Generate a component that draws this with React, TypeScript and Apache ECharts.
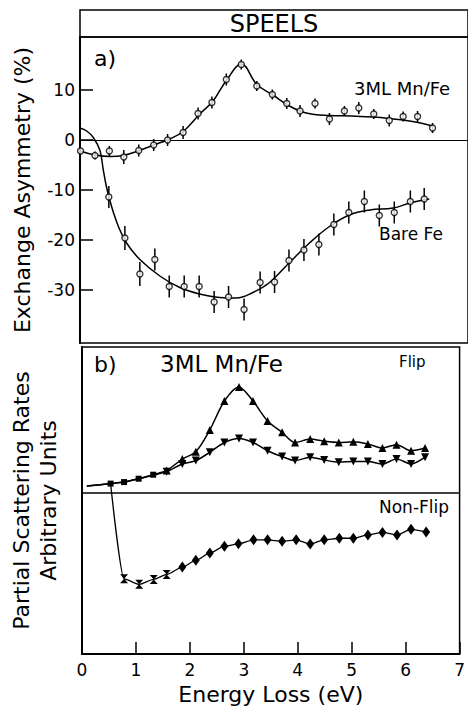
import React, { useEffect, useRef } from "react";
import * as echarts from "echarts";

// ---------- Panel a) Exchange asymmetry (%) ----------
const MN_E = [0.01, 0.27, 0.53, 0.79, 1.06, 1.33, 1.58, 1.86, 2.13, 2.38, 2.64, 2.91, 3.19, 3.47, 3.73, 3.97, 4.24, 4.5, 4.77, 5.03, 5.3, 5.58, 5.83, 6.09, 6.36];
const MN_A = [-2.2, -3.1, -2.2, -3.4, -2.1, -1.0, 0.0, 1.5, 5.3, 7.5, 12.1, 15.1, 10.8, 9.1, 7.3, 5.8, 7.3, 4.2, 5.8, 6.4, 5.2, 3.9, 4.7, 4.7, 2.4];
const MN_ERR = [0.6, 0.8, 1.0, 1.4, 1.2, 1.2, 1.2, 1.3, 1.2, 1.2, 1.2, 1.0, 1.0, 1.0, 1.1, 1.2, 1.0, 1.2, 1.0, 1.2, 1.0, 1.2, 1.0, 1.1, 1.0];

const FE_E = [0.52, 0.81, 1.08, 1.35, 1.61, 1.88, 2.15, 2.42, 2.68, 2.96, 3.25, 3.51, 3.77, 4.04, 4.31, 4.58, 4.85, 5.13, 5.4, 5.67, 5.96, 6.21];
const FE_A = [-11.4, -19.6, -26.8, -23.9, -29.3, -29.3, -29.3, -32.4, -31.4, -33.9, -28.5, -28.4, -24.1, -22.0, -20.9, -16.9, -14.5, -12.3, -15.1, -14.5, -12.3, -11.8];
const FE_ERR = [2.2, 2.4, 2.4, 2.2, 2.2, 2.2, 2.2, 2.2, 2.2, 2.2, 2.2, 2.2, 2.2, 2.2, 2.2, 2.2, 2.2, 2.2, 2.2, 2.2, 2.2, 2.2];

const MN_FIT_E = [0, 0.27, 0.55, 0.78, 1.07, 1.33, 1.62, 1.86, 2.16, 2.4, 2.64, 2.91, 3.19, 3.48, 3.78, 4.08, 4.5, 4.9, 5.3, 5.65, 6.0, 6.36];
const MN_FIT_A = [-2.2, -3.0, -3.3, -3.1, -2.1, -1.0, 0.2, 1.7, 5.2, 7.8, 11.9, 15.2, 11.1, 9.0, 6.8, 5.4, 4.9, 4.8, 4.6, 4.2, 3.7, 2.8];

const FE_FIT_E = [0.0, 0.12, 0.24, 0.36, 0.42, 0.47, 0.52, 0.6, 0.7, 0.84, 1.08, 1.44, 1.8, 2.16, 2.52, 2.82, 3.12, 3.42, 3.78, 4.14, 4.5, 4.86, 5.23, 5.65, 5.95, 6.3];
const FE_FIT_A = [2.4, 1.8, 0.5, -2.1, -6.0, -9.0, -11.3, -14.4, -17.5, -20.6, -23.9, -27.2, -29.5, -30.8, -31.5, -31.6, -30.5, -28.5, -24.5, -20.6, -17.3, -15.0, -14.0, -13.6, -12.6, -11.8];

const A_TICKS = [-30, -20, -10, 0, 10];
const X_TICKS = [0, 1, 2, 3, 4, 5, 6, 7];

// ---------- Panel b) Partial scattering rates (arbitrary units) ----------
const FLIP_E = [0.09, 0.53, 0.78, 1.05, 1.32, 1.57, 1.86, 2.11, 2.37, 2.64, 2.91, 3.17, 3.44, 3.71, 3.95, 4.23, 4.49, 4.76, 5.03, 5.3, 5.57, 5.83, 6.1, 6.36];
const FLIP_UP = [54.7, 55.5, 56.0, 57.1, 58.4, 59.8, 63.5, 65.9, 73.0, 82.4, 87.0, 82.4, 75.9, 72.2, 68.9, 70.0, 69.3, 68.9, 69.1, 68.4, 67.1, 68.2, 66.2, 67.1];
const FLIP_DOWN = [54.7, 55.5, 56.0, 57.1, 58.2, 59.4, 61.9, 63.0, 65.7, 68.9, 70.2, 68.9, 66.2, 64.3, 63.0, 64.1, 63.2, 62.5, 62.7, 62.7, 61.9, 63.5, 61.9, 64.1];
const NONFLIP_E = [0.53, 0.78, 1.06, 1.33, 1.57, 1.86, 2.11, 2.37, 2.64, 2.9, 3.18, 3.44, 3.71, 3.97, 4.23, 4.49, 4.77, 5.03, 5.3, 5.57, 5.84, 6.1, 6.38];
const NONFLIP = [55.5, 24.5, 22.7, 24.3, 25.9, 28.3, 30.5, 32.9, 35.1, 35.9, 37.2, 37.2, 36.7, 37.2, 35.8, 37.2, 37.7, 37.7, 38.8, 39.6, 38.8, 40.6, 39.7];
const SEPARATOR = 52.6;

const FONT = "DejaVu Sans";
const HOURGLASS = "path://M0,0 L10,0 L0,12 L10,12 Z";

export default function App() {
  const ref = useRef<HTMLDivElement>(null);
  useEffect(() => {
    if (!ref.current) return;
    const chart = echarts.init(ref.current, null, { renderer: "svg" });

    const errRender = (params: any, api: any) => {
      const x = api.value(0);
      const p1 = api.coord([x, api.value(1)]);
      const p2 = api.coord([x, api.value(2)]);
      return {
        type: "line",
        shape: { x1: p1[0], y1: p1[1], x2: p2[0], y2: p2[1] },
        style: { stroke: "#000", lineWidth: 1.5 },
      };
    };

    const openCircle = {
      symbol: "circle",
      symbolSize: 6,
      itemStyle: { color: "#fff", borderColor: "#000", borderWidth: 1.4 },
    };

    const upData = FLIP_E.map((e, i) => {
      if (i === 0) return { value: [e, FLIP_UP[i]], symbol: "none" };
      if (i <= 4) return { value: [e, FLIP_UP[i]], symbol: "rect", symbolSize: 6 };
      return { value: [e, FLIP_UP[i]] };
    });
    const downData = FLIP_E.map((e, i) => {
      if (i <= 4) return { value: [e, FLIP_DOWN[i]], symbol: "none" };
      return { value: [e, FLIP_DOWN[i]] };
    });
    const nfData = NONFLIP_E.map((e, i) => {
      if (i === 0) return { value: [e, NONFLIP[i]], symbol: "none" };
      if (i <= 4) return { value: [e, NONFLIP[i]], symbol: HOURGLASS, symbolSize: [8, 9] };
      return { value: [e, NONFLIP[i]] };
    });

    const txt = (text: string, x: number, y: number, size: number, align = "left") => ({
      type: "text",
      x,
      y,
      style: { text, fill: "#000", font: `${size}px "${FONT}"`, textAlign: align, textVerticalAlign: "middle" },
    });

    chart.setOption({
      animation: false,
      backgroundColor: "#fff",
      textStyle: { fontFamily: FONT, color: "#000" },
      grid: [
        { left: 80, top: 37, width: 388, height: 306, show: true, borderColor: "#000", borderWidth: 1.5 },
        { left: 80, top: 347, width: 388, height: 310, show: true, borderColor: "#000", borderWidth: 1.5 },
      ],
      xAxis: [
        {
          gridIndex: 0, type: "value", min: 0, max: 7, interval: 1,
          axisLine: { show: false }, axisTick: { show: false }, axisLabel: { show: false }, splitLine: { show: false },
        },
        {
          gridIndex: 1, type: "value", min: 0, max: 7, interval: 1,
          name: "Energy Loss (eV)", nameLocation: "middle", nameGap: 29,
          nameTextStyle: { fontSize: 22, color: "#000", fontFamily: FONT },
          axisLine: { show: true, lineStyle: { color: "#000", width: 2 } },
          axisTick: { show: true, inside: true, length: 12, lineStyle: { color: "#000", width: 1.5 }, customValues: X_TICKS },
          axisLabel: { fontSize: 17, color: "#000", margin: 7, fontFamily: FONT, customValues: X_TICKS },
          splitLine: { show: false },
        },
      ],
      yAxis: [
        {
          gridIndex: 0, type: "value", min: -40.6, max: 20.6,
          name: "Exchange Asymmetry (%)", nameLocation: "middle", nameGap: 47,
          nameTextStyle: { fontSize: 22, color: "#000", fontFamily: FONT },
          axisLine: { show: true, lineStyle: { color: "#000", width: 2 } },
          axisTick: { show: true, inside: true, length: 13, lineStyle: { color: "#000", width: 1.5 }, customValues: A_TICKS },
          axisLabel: { fontSize: 17, color: "#000", margin: 5, fontFamily: FONT, customValues: A_TICKS },
          splitLine: { show: false },
        },
        {
          gridIndex: 1, type: "value", min: 0, max: 100,
          name: "Partial Scattering Rates\nArbitrary Units", nameLocation: "middle", nameGap: 20,
          nameTextStyle: { fontSize: 22, lineHeight: 27, color: "#000", fontFamily: FONT },
          axisLine: { show: true, lineStyle: { color: "#000", width: 2 } },
          axisTick: { show: false }, axisLabel: { show: false }, splitLine: { show: false },
        },
      ],
      graphic: [
        { type: "rect", shape: { x: 80, y: 10, width: 388, height: 27 }, style: { fill: "none", stroke: "#000", lineWidth: 1.5 } },
        txt("SPEELS", 274, 24, 24, "center"),
        txt("a)", 94, 58, 22),
        txt("3ML Mn/Fe", 354, 88, 18),
        txt("Bare Fe", 379, 234, 17),
        txt("b)", 94, 364, 22),
        txt("3ML Mn/Fe", 160, 364, 23),
        txt("Flip", 399, 362, 15),
        txt("Non-Flip", 379, 507, 17),
      ],
      series: [
        {
          name: "3ML Mn/Fe fit", type: "line", xAxisIndex: 0, yAxisIndex: 0, smooth: 0.4, symbol: "none",
          lineStyle: { color: "#000", width: 1.5 },
          data: MN_FIT_E.map((e, i) => [e, MN_FIT_A[i]]),
          markLine: {
            silent: true, symbol: ["none", "none"], label: { show: false },
            lineStyle: { color: "#000", width: 1, type: "solid" },
            data: [{ yAxis: 0 }],
          },
        },
        {
          name: "Bare Fe fit", type: "line", xAxisIndex: 0, yAxisIndex: 0, smooth: 0.4, symbol: "none",
          lineStyle: { color: "#000", width: 1.5 },
          data: FE_FIT_E.map((e, i) => [e, FE_FIT_A[i]]),
        },
        {
          name: "3ML Mn/Fe err", type: "custom", xAxisIndex: 0, yAxisIndex: 0, renderItem: errRender,
          encode: { x: 0, y: [1, 2] },
          data: MN_E.map((e, i) => [e, MN_A[i] - MN_ERR[i], MN_A[i] + MN_ERR[i]]),
        },
        {
          name: "Bare Fe err", type: "custom", xAxisIndex: 0, yAxisIndex: 0, renderItem: errRender,
          encode: { x: 0, y: [1, 2] },
          data: FE_E.map((e, i) => [e, FE_A[i] - FE_ERR[i], FE_A[i] + FE_ERR[i]]),
        },
        {
          name: "3ML Mn/Fe", type: "scatter", xAxisIndex: 0, yAxisIndex: 0, z: 5, ...openCircle,
          data: MN_E.map((e, i) => [e, MN_A[i]]),
        },
        {
          name: "Bare Fe", type: "scatter", xAxisIndex: 0, yAxisIndex: 0, z: 5, ...openCircle,
          data: FE_E.map((e, i) => [e, FE_A[i]]),
        },
        {
          name: "Flip up", type: "line", xAxisIndex: 1, yAxisIndex: 1, smooth: 0.3,
          symbol: "triangle", symbolSize: 8, showAllSymbol: true,
          itemStyle: { color: "#000" }, lineStyle: { color: "#000", width: 1.5 },
          data: upData,
          markLine: {
            silent: true, symbol: ["none", "none"], label: { show: false },
            lineStyle: { color: "#000", width: 1.5, type: "solid" },
            data: [{ yAxis: SEPARATOR }],
          },
        },
        {
          name: "Flip down", type: "line", xAxisIndex: 1, yAxisIndex: 1, smooth: 0.3,
          symbol: "triangle", symbolRotate: 180, symbolSize: 8, showAllSymbol: true,
          itemStyle: { color: "#000" }, lineStyle: { color: "#000", width: 1.5 },
          data: downData,
        },
        {
          name: "Non-Flip", type: "line", xAxisIndex: 1, yAxisIndex: 1, smooth: 0.25, smoothMonotone: "x",
          symbol: "diamond", symbolSize: [8, 11], showAllSymbol: true,
          itemStyle: { color: "#000" }, lineStyle: { color: "#000", width: 1.3 },
          data: nfData,
        },
      ],
    });
    return () => chart.dispose();
  }, []);
  return <div ref={ref} style={{ position: "fixed", left: 0, top: 0, width: 468, height: 706, background: "#fff" }} />;
}
